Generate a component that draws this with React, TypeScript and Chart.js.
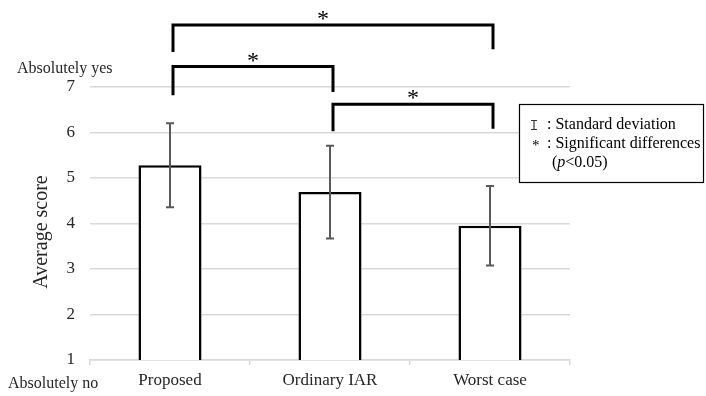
import React, { useEffect, useRef } from "react";
import { Chart, registerables } from "chart.js";

Chart.register(...registerables);

const categories = ["Proposed", "Ordinary IAR", "Worst case"];
const meanScores = [5.28, 4.69, 3.95];
const stdDevs = [0.925, 1.02, 0.875];
const yMin = 1;
const yMax = 7;

// significance brackets (category indices and heights in score units)
const bracketFrom = [0, 0, 1];
const bracketTo = [2, 1, 2];
const bracketTop = [8.36, 7.45, 6.62];
const bracketLeftEnd = [7.77, 6.82, 6.03];
const bracketRightEnd = [7.83, 6.89, 6.08];
const bracketMark = ["*", "*", "*"];
const bracketMarkShift = [-10, 0, 0];

const scaleTopLabel = "Absolutely yes";
const scaleBottomLabel = "Absolutely no";
const yAxisTitle = "Average score";
const legendSdText = ": Standard deviation";
const legendSigText = ": Significant differences";
const legendPText = ["(", "p", "<0.05)"];

const FONT = "'Liberation Serif', 'Times New Roman', serif";

const overlayPlugin = {
  id: "overlay",
  afterDatasetsDraw(chart: any) {
    const ctx = chart.ctx as CanvasRenderingContext2D;
    const y = chart.scales.y;
    const meta = chart.getDatasetMeta(0);
    ctx.save();
    // error bars
    ctx.strokeStyle = "#595959";
    ctx.lineWidth = 2;
    meanScores.forEach((m, i) => {
      const x = meta.data[i].x;
      const t = y.getPixelForValue(m + stdDevs[i]);
      const b = y.getPixelForValue(m - stdDevs[i]);
      ctx.beginPath();
      ctx.moveTo(x, t);
      ctx.lineTo(x, b);
      ctx.moveTo(x - 4, t);
      ctx.lineTo(x + 4, t);
      ctx.moveTo(x - 4, b);
      ctx.lineTo(x + 4, b);
      ctx.stroke();
    });
    // brackets
    ctx.strokeStyle = "#000";
    ctx.lineWidth = 3;
    ctx.lineJoin = "miter";
    bracketFrom.forEach((f, i) => {
      const xl = meta.data[f].x + 3;
      const xr = meta.data[bracketTo[i]].x + 3;
      const yt = y.getPixelForValue(bracketTop[i]);
      ctx.beginPath();
      ctx.moveTo(xl, y.getPixelForValue(bracketLeftEnd[i]));
      ctx.lineTo(xl, yt);
      ctx.lineTo(xr, yt);
      ctx.lineTo(xr, y.getPixelForValue(bracketRightEnd[i]));
      ctx.stroke();
      ctx.fillStyle = "#000";
      ctx.font = `24px ${FONT}`;
      ctx.textAlign = "center";
      ctx.textBaseline = "alphabetic";
      ctx.fillText(bracketMark[i], (xl + xr) / 2 + bracketMarkShift[i], yt + 1);
    });
    ctx.restore();
  },
  afterDraw(chart: any) {
    const ctx = chart.ctx as CanvasRenderingContext2D;
    const area = chart.chartArea;
    ctx.save();
    ctx.fillStyle = "#262626";
    ctx.textAlign = "left";
    ctx.textBaseline = "alphabetic";
    ctx.font = `16px ${FONT}`;
    ctx.fillText(scaleTopLabel, 17, 73);
    ctx.fillText(scaleBottomLabel, 8, 388);
    // y title
    ctx.save();
    ctx.translate(42, 232);
    ctx.rotate(-Math.PI / 2);
    ctx.textAlign = "center";
    ctx.textBaseline = "middle";
    ctx.font = `20px ${FONT}`;
    ctx.fillText(yAxisTitle, 0, 0);
    ctx.restore();
    // legend box
    const lx = area.right - 51;
    ctx.fillStyle = "#fff";
    ctx.fillRect(lx, 104, 184, 78);
    ctx.strokeStyle = "#000";
    ctx.lineWidth = 1.2;
    ctx.strokeRect(lx + 0.5, 104.5, 184, 78);
    // sd symbol
    ctx.strokeStyle = "#333";
    ctx.lineWidth = 1.2;
    ctx.beginPath();
    ctx.moveTo(lx + 15, 120);
    ctx.lineTo(lx + 15, 130);
    ctx.moveTo(lx + 12, 120.5);
    ctx.lineTo(lx + 18, 120.5);
    ctx.moveTo(lx + 12, 129.5);
    ctx.lineTo(lx + 18, 129.5);
    ctx.stroke();
    ctx.fillStyle = "#000";
    ctx.font = `16px ${FONT}`;
    ctx.fillText(legendSdText, lx + 28, 129);
    ctx.font = `15px ${FONT}`;
    ctx.fillText("*", lx + 13, 150);
    ctx.font = `16px ${FONT}`;
    ctx.fillText(legendSigText, lx + 28, 148);
    let px = lx + 33;
    ctx.fillText(legendPText[0], px, 167);
    px += ctx.measureText(legendPText[0]).width;
    ctx.font = `italic 16px ${FONT}`;
    ctx.fillText(legendPText[1], px, 167);
    px += ctx.measureText(legendPText[1]).width;
    ctx.font = `16px ${FONT}`;
    ctx.fillText(legendPText[2], px, 167);
    ctx.restore();
  },
};

export default function App() {
  const ref = useRef<HTMLCanvasElement | null>(null);
  useEffect(() => {
    if (!ref.current) return;
    const chart = new Chart(ref.current, {
      type: "bar",
      data: {
        labels: categories,
        datasets: [
          {
            data: meanScores,
            backgroundColor: "#ffffff",
            borderColor: "#000000",
            borderWidth: 2.5,
            borderSkipped: "bottom",
            barPercentage: 0.394,
            categoryPercentage: 1,
          },
        ],
      },
      options: {
        responsive: false,
        animation: false,
        events: [],
        layout: { padding: { left: 0, right: 136, top: 87, bottom: 0 } },
        plugins: { legend: { display: false }, tooltip: { enabled: false } },
        scales: {
          x: {
            afterFit: (s: any) => {
              s.height = 36;
            },
            grid: {
              drawOnChartArea: false,
              drawTicks: true,
              tickLength: 5,
              color: "#d9d9d9",
              lineWidth: 1.5,
            },
            border: { display: true, color: "#d9d9d9", width: 1.5 },
            ticks: {
              color: "#262626",
              font: { family: FONT, size: 17 },
              padding: 5,
            },
          },
          y: {
            min: yMin,
            max: yMax,
            afterFit: (s: any) => {
              s.width = 90;
            },
            grid: { color: "#d9d9d9", lineWidth: 1.5, drawTicks: false },
            border: { display: false },
            ticks: {
              stepSize: 1,
              color: "#262626",
              font: { family: FONT, size: 17 },
              padding: 15,
            },
          },
        },
      },
      plugins: [overlayPlugin],
    } as any);
    return () => chart.destroy();
  }, []);
  return (
    <div style={{ position: "fixed", left: 0, top: 0, width: 706, height: 396, background: "#fff" }}>
      <canvas ref={ref} width={706} height={396} style={{ width: 706, height: 396, display: "block" }} />
    </div>
  );
}
